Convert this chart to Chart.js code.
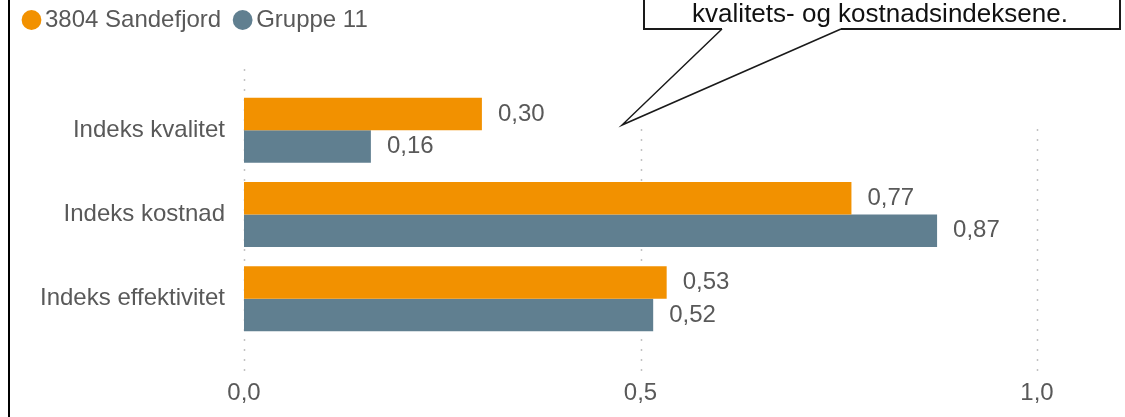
<!DOCTYPE html>
<html>
<head>
<meta charset="utf-8">
<script src="https://cdn.jsdelivr.net/npm/chart.js@4"></script>
<style>
  html, body { margin: 0; padding: 0; background: #fff; }
  #wrap { width: 1125px; height: 417px; }
</style>
</head>
<body>
<div id="wrap"><canvas id="chart" width="1125" height="417"></canvas></div>
<script>
// data
var categories = ['Indeks kvalitet', 'Indeks kostnad', 'Indeks effektivitet'];
var seriesNames = ['3804 Sandefjord', 'Gruppe 11'];
var sandefjord = [0.30, 0.766, 0.533];
var gruppe11 = [0.16, 0.874, 0.516];
var xTicks = [0, 0.5, 1.0];
var calloutText = 'kvalitets- og kostnadsindeksene.';

var textColor = '#595959';
var fontFamily = 'Arial, "Liberation Sans", sans-serif';

function comma(v, d) {
    return v.toFixed(d).replace('.', ',');
}

// stretch legend so the plot starts lower
var legendSpace = {
    id: 'legendSpace',
    beforeInit: function (chart) {
        var fit = chart.legend.fit;
        chart.legend.fit = function () {
            fit.bind(chart.legend)();
            this.height = 100;
        };
    }
};

// dotted vertical grid, a bit longer than the plot area
var dottedGrid = {
    id: 'dottedGrid',
    beforeDatasetsDraw: function (chart) {
        var ctx = chart.ctx, area = chart.chartArea, x = chart.scales.x;
        ctx.save();
        ctx.strokeStyle = '#c2c2c2';
        ctx.lineWidth = 1.5;
        ctx.setLineDash([2, 8]);
        x.ticks.forEach(function (t) {
            var px = Math.round(x.getPixelForValue(t.value)) + 0.5;
            ctx.beginPath();
            ctx.moveTo(px, area.top - 19);
            ctx.lineTo(px, area.bottom + 30);
            ctx.stroke();
        });
        ctx.restore();
    }
};

// value labels right of bars, plus frame line and callout
var extras = {
    id: 'extras',
    afterDatasetsDraw: function (chart) {
        var ctx = chart.ctx;
        ctx.save();
        ctx.font = '24px ' + fontFamily;
        ctx.fillStyle = textColor;
        ctx.textAlign = 'left';
        ctx.textBaseline = 'middle';
        chart.data.datasets.forEach(function (ds, i) {
            chart.getDatasetMeta(i).data.forEach(function (bar, j) {
                ctx.fillText(comma(ds.data[j], 2), bar.x + 16, bar.y);
            });
        });

        // left frame line
        ctx.fillStyle = '#000';
        ctx.fillRect(8, 0, 2, chart.height);

        // callout (covers the top of the grid)
        ctx.fillStyle = '#fff';
        ctx.fillRect(600, 0, 525, 127);
        ctx.strokeStyle = '#1a1a1a';
        ctx.lineWidth = 2;
        ctx.beginPath();
        ctx.moveTo(722, 29);
        ctx.lineTo(644, 29);
        ctx.lineTo(644, -20);
        ctx.moveTo(1120, -20);
        ctx.lineTo(1120, 29);
        ctx.lineTo(841, 29);
        ctx.stroke();
        ctx.lineWidth = 1.5;
        ctx.beginPath();
        ctx.moveTo(722, 29);
        ctx.lineTo(622, 125);
        ctx.lineTo(841, 29);
        ctx.stroke();
        ctx.fillStyle = '#111';
        ctx.font = '26px ' + fontFamily;
        ctx.textAlign = 'center';
        ctx.textBaseline = 'alphabetic';
        ctx.fillText(calloutText, 880, 22);
        ctx.restore();
    }
};

var ctx = document.getElementById('chart').getContext('2d');
var myChart = new Chart(ctx, {
    type: 'bar',
    data: {
        labels: categories,
        datasets: [{
            label: seriesNames[0],
            data: sandefjord,
            backgroundColor: '#f29100'
        }, {
            label: seriesNames[1],
            data: gruppe11,
            backgroundColor: '#607f90'
        }]
    },
    options: {
        indexAxis: 'y',
        responsive: false,
        animation: false,
        barPercentage: 1.0,
        categoryPercentage: 0.77,
        layout: {
            padding: { left: 10, right: 88, top: -12, bottom: 0 }
        },
        scales: {
            x: {
                min: 0,
                max: 1,
                afterBuildTicks: function (s) {
                    s.ticks = xTicks.map(function (v) { return { value: v }; });
                },
                afterFit: function (s) { s.height = 76; },
                grid: { display: false, drawTicks: false },
                border: { display: false },
                ticks: {
                    padding: 38,
                    color: textColor,
                    font: { size: 24, family: fontFamily },
                    callback: function (v) { return comma(v, 1); }
                }
            },
            y: {
                afterFit: function (s) { s.width = 234; },
                grid: { display: false, drawTicks: false },
                border: { display: false },
                ticks: {
                    padding: 19,
                    color: textColor,
                    font: { size: 24, family: fontFamily }
                }
            }
        },
        plugins: {
            legend: {
                position: 'top',
                align: 'start',
                labels: {
                    usePointStyle: true,
                    pointStyle: 'circle',
                    boxWidth: 3,
                    boxHeight: 14,
                    padding: 20,
                    color: textColor,
                    font: { size: 24, family: fontFamily }
                }
            },
            tooltip: { enabled: false }
        }
    },
    plugins: [legendSpace, dottedGrid, extras]
});
</script>
</body>
</html>
